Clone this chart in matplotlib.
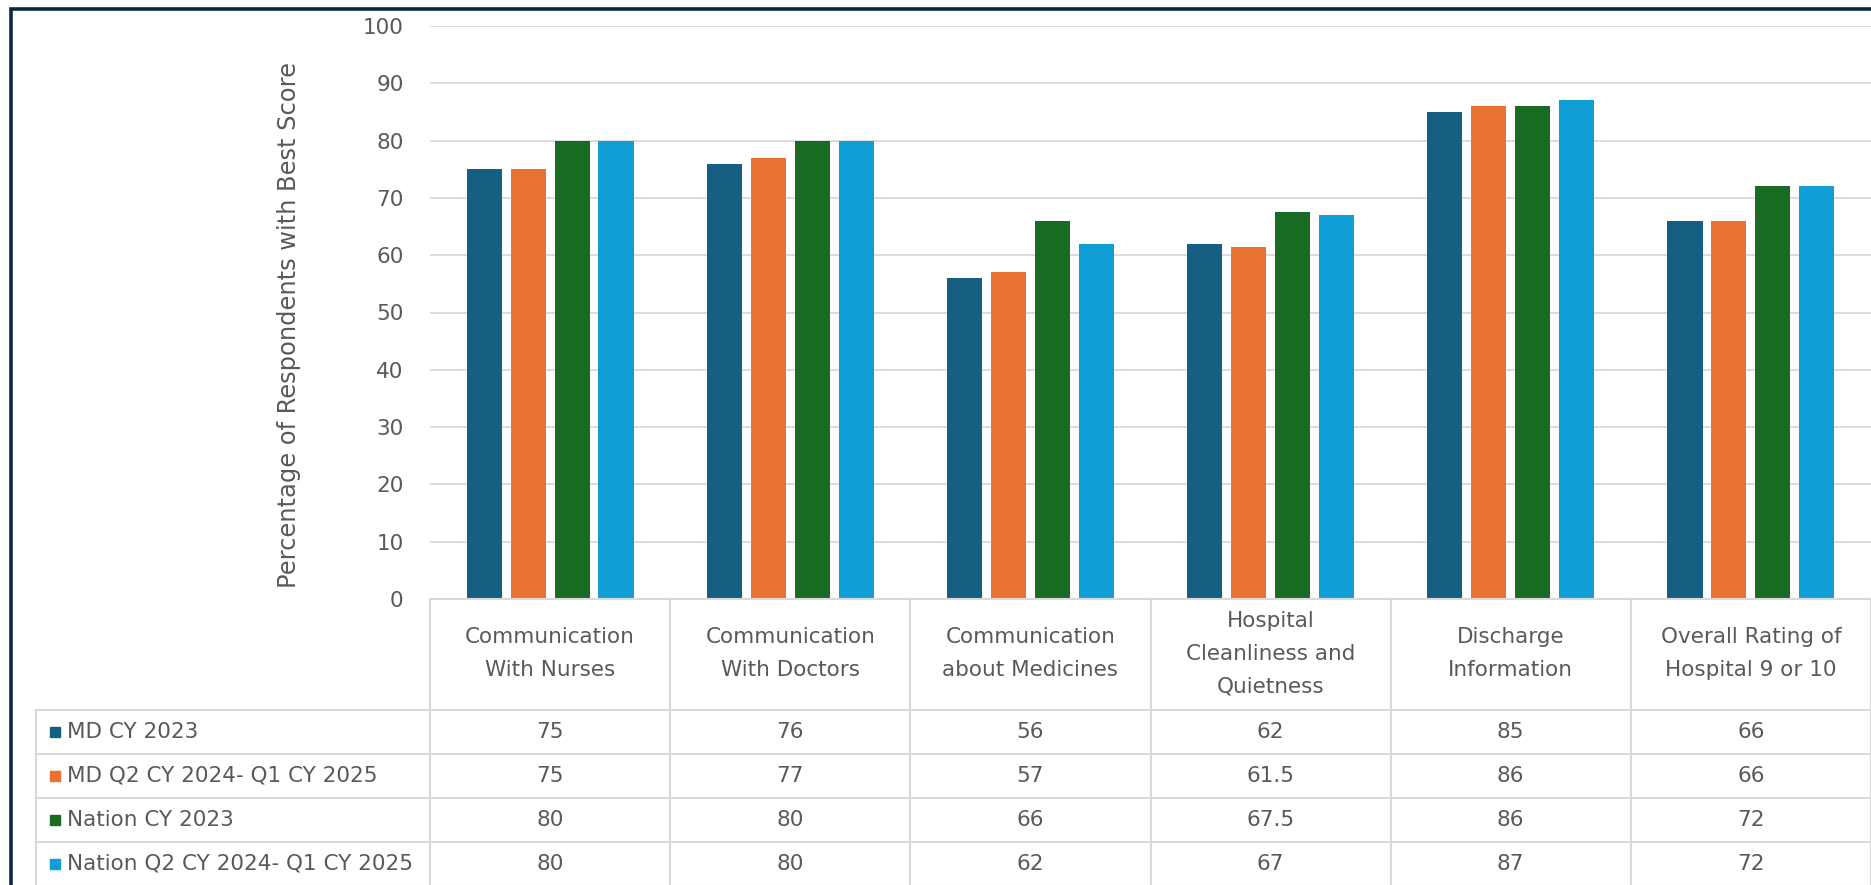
import numpy as np
import matplotlib.pyplot as plt
from matplotlib.patches import Rectangle

plt.rcParams['font.family'] = ['DejaVu Sans']

categories = ['Communication\nWith Nurses', 'Communication\nWith Doctors',
              'Communication\nabout Medicines', 'Hospital\nCleanliness and\nQuietness',
              'Discharge\nInformation', 'Overall Rating of\nHospital 9 or 10']
series = ['MD CY 2023', 'MD Q2 CY 2024- Q1 CY 2025', 'Nation CY 2023', 'Nation Q2 CY 2024- Q1 CY 2025']
md_2023 = [75, 76, 56, 62, 85, 66]
md_2425 = [75, 77, 57, 61.5, 86, 66]
nation_2023 = [80, 80, 66, 67.5, 86, 72]
nation_2425 = [80, 80, 62, 67, 87, 72]
values = [md_2023, md_2425, nation_2023, nation_2425]
colors = ['#156082', '#E97132', '#196B24', '#0F9ED5']
yticks = list(range(0, 101, 10))

W, H = 1871, 885
grid_c = '#D9D9D9'
text_c = '#595959'
fs = 15.5

fig = plt.figure(figsize=(W / 100, H / 100), dpi=100)

# chart area (plot left at 430px, top 26px, zero line 599px)
ax = fig.add_axes([430 / W, 1 - 599 / H, 1 - 430 / W, (599 - 26) / H])
x = np.arange(len(categories))
bw, step = 0.146, 0.183
for i, (vals, c) in enumerate(zip(values, colors)):
    ax.bar(x + (i - 1.5) * step, vals, bw, color=c, zorder=3)
ax.set_xlim(-0.5, len(categories) - 0.5)
ax.set_ylim(0, 100)
ax.set_yticks(yticks)
ax.set_xticks([])
ax.tick_params(axis='y', length=0, pad=19, labelsize=fs, labelcolor=text_c)
ax.grid(axis='y', color=grid_c, lw=1.3, zorder=0)
for s in ax.spines.values():
    s.set_visible(False)

fig.text(289 / W, 1 - 325 / H, 'Percentage of Respondents with Best Score',
         rotation=90, ha='center', va='center', fontsize=17.4, color=text_c)

# data table under the chart, y in px from the zero line down
tab_h = H - 599
tax = fig.add_axes([430 / W, 0, 1 - 430 / W, tab_h / H])
tax.set_xlim(-0.5, len(categories) - 0.5)
tax.set_ylim(tab_h, 0)
tax.axis('off')
col_w = (W - 430) / len(categories)
def px2x(px):
    return -0.5 + (px - 430) / col_w

left = px2x(36)
head_h, row_h = 111, 44
row_lines = [head_h + k * row_h for k in range(len(series) + 1)]

tax.plot([-0.5, len(categories) - 0.5], [0, 0], color=grid_c, lw=1.5, clip_on=False)
for yl in row_lines:
    tax.plot([left, len(categories) - 0.5], [yl, yl], color=grid_c, lw=1.5, clip_on=False)
for k in range(len(categories) + 1):
    tax.plot([k - 0.5, k - 0.5], [0, tab_h + 5], color=grid_c, lw=1.5, clip_on=False)
tax.plot([left, left], [head_h, tab_h + 5], color=grid_c, lw=1.5, clip_on=False)

for j, cat in enumerate(categories):
    tax.text(j, head_h / 2 - 1, cat, ha='center', va='center', fontsize=fs,
             color=text_c, linespacing=1.8)

for i, (name, vals, c) in enumerate(zip(series, values, colors)):
    yc = head_h + (i + 0.5) * row_h
    tax.plot([px2x(55)], [yc], marker='s', ms=7.5, color=c, clip_on=False)
    tax.text(px2x(67), yc, name, ha='left', va='center', fontsize=fs,
             color=text_c, clip_on=False)
    for j, v in enumerate(vals):
        tax.text(j, yc, f'{v:g}', ha='center', va='center', fontsize=fs, color=text_c)

# dark frame around the screenshot
fig.patches.append(Rectangle((11 / W, -0.1), 1.2, 1.1 - 9 / H, transform=fig.transFigure,
                             fill=False, edgecolor='#0E2841', lw=2.6, zorder=10))

fig.savefig('out.png', dpi=100)
